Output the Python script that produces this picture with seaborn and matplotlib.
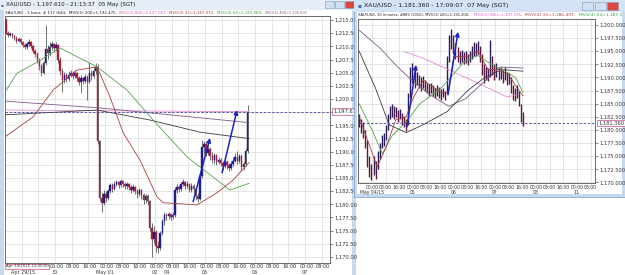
import numpy as np
import pandas as pd
import matplotlib
matplotlib.use("Agg")
import matplotlib.pyplot as plt
from matplotlib.patches import Rectangle
import seaborn as sns

# ---------------- LEFT CHART DATA: XAU/USD 1 hour ----------------
L_first_open = 1215.0
L_close = [1212.6, 1212.2, 1212.4, 1211.9, 1211.6, 1211.0, 1211.4, 1210.8, 1210.3, 1209.8,
           1210.4, 1210.9, 1210.1, 1209.2, 1208.6, 1207.4, 1206.3, 1204.9, 1206.8, 1209.5,
           1208.7, 1209.9, 1210.4, 1209.6, 1210.2, 1207.5, 1205.3, 1203.6, 1204.5, 1203.8,
           1204.6, 1205.0, 1204.3, 1204.9, 1204.0, 1203.2, 1203.9, 1203.5, 1204.2, 1203.3,
           1205.0, 1204.4, 1205.3, 1206.0, 1192.0, 1181.2, 1180.3, 1182.0, 1181.2, 1182.5,
           1183.6, 1183.0, 1183.8, 1184.2, 1183.6, 1184.4, 1183.9, 1183.5, 1183.9, 1183.2,
           1182.8, 1183.3, 1182.6, 1182.0, 1182.7, 1181.8, 1180.8, 1181.5, 1180.6, 1175.6,
           1173.5, 1174.8, 1172.1, 1171.8, 1174.6, 1176.8, 1178.0, 1177.7, 1178.1, 1177.6,
           1177.9, 1182.8, 1183.3, 1182.9, 1183.8, 1184.2, 1183.5, 1183.9, 1182.8, 1183.5,
           1182.9, 1181.6, 1181.0, 1185.4, 1190.8, 1191.5, 1189.8, 1190.6, 1189.2, 1188.4,
           1189.3, 1188.1, 1188.5, 1187.9, 1187.2, 1188.0, 1187.4, 1186.9, 1187.6, 1188.3,
           1189.0, 1188.2, 1189.1, 1187.0, 1187.6, 1190.2, 1197.6]
L_high = [1215.3, 1212.9, 1212.8, 1212.6, 1212.2, 1211.9, 1211.8, 1211.6, 1211.0, 1210.6,
          1210.9, 1211.4, 1211.1, 1210.3, 1209.5, 1208.9, 1207.8, 1206.6, 1207.2, 1214.0,
          1210.2, 1210.8, 1211.0, 1210.6, 1210.9, 1210.4, 1207.9, 1205.8, 1205.2, 1204.9,
          1205.4, 1205.6, 1205.3, 1205.5, 1205.1, 1204.4, 1204.5, 1204.2, 1204.8, 1204.6,
          1207.0, 1205.6, 1205.9, 1206.8, 1206.6, 1192.3, 1182.4, 1182.8, 1182.5, 1183.0,
          1184.1, 1184.0, 1184.4, 1184.7, 1184.5, 1184.9, 1184.6, 1184.2, 1184.3, 1184.1,
          1183.6, 1183.8, 1183.5, 1183.0, 1183.1, 1182.9, 1182.2, 1182.0, 1181.9, 1180.9,
          1176.4, 1175.8, 1175.2, 1173.0, 1175.0, 1177.2, 1178.6, 1178.4, 1178.5, 1178.3,
          1178.6, 1183.2, 1183.9, 1183.6, 1184.3, 1184.8, 1184.4, 1184.5, 1184.1, 1184.0,
          1183.9, 1183.3, 1182.2, 1185.8, 1192.3, 1192.0, 1191.9, 1191.4, 1190.9, 1190.0,
          1189.8, 1189.6, 1189.0, 1188.8, 1188.3, 1188.6, 1188.4, 1187.9, 1188.2, 1188.9,
          1189.8, 1190.1, 1189.6, 1189.5, 1188.1, 1190.7, 1198.9]
L_low = [1212.3, 1211.8, 1211.9, 1211.5, 1211.2, 1210.6, 1210.8, 1210.4, 1209.9, 1209.4,
         1209.5, 1210.1, 1209.7, 1208.8, 1208.0, 1206.9, 1205.6, 1204.3, 1204.7, 1206.5,
         1207.6, 1208.2, 1209.3, 1208.9, 1209.2, 1206.9, 1204.6, 1201.3, 1203.1, 1203.2,
         1203.5, 1204.1, 1203.8, 1203.9, 1203.4, 1202.6, 1201.1, 1202.9, 1203.1, 1199.8,
         1203.0, 1203.7, 1204.0, 1204.8, 1191.5, 1180.6, 1178.6, 1179.8, 1180.5, 1180.9,
         1182.1, 1182.4, 1182.7, 1183.4, 1183.1, 1183.3, 1183.2, 1182.9, 1183.0, 1182.7,
         1182.2, 1182.3, 1182.0, 1181.2, 1181.6, 1181.1, 1180.1, 1180.2, 1179.8, 1175.0,
         1170.0, 1172.6, 1170.9, 1170.8, 1171.3, 1174.1, 1176.0, 1177.1, 1177.3, 1177.1,
         1177.2, 1177.6, 1182.2, 1182.3, 1182.6, 1183.4, 1182.9, 1183.1, 1182.3, 1182.4,
         1182.1, 1180.9, 1180.5, 1180.8, 1185.0, 1189.6, 1189.1, 1189.3, 1188.4, 1187.8,
         1187.6, 1187.5, 1187.6, 1187.3, 1186.6, 1186.9, 1186.8, 1186.3, 1186.5, 1187.2,
         1188.1, 1187.7, 1187.9, 1186.4, 1186.5, 1187.2, 1189.8]
L_price_now = 1197.61

# moving averages (bar index, price)
L_ma32_x = [-0.5, 13.0, 22.6, 34.1, 43.7, 49.9, 56.2, 64.3, 72.5, 75.4, 91.7, 101.3, 109.0, 116.7]
L_ma32_y = [1192.8, 1196.6, 1201.7, 1205.5, 1206.1, 1200.4, 1193.6, 1188.4, 1181.4, 1180.3, 1179.9, 1182.2, 1184.6, 1187.97]
L_ma64_x = [-0.5, 5.3, 14.9, 25.9, 32.2, 43.7, 58.1, 70.6, 86.9, 107.5, 116.7]
L_ma64_y = [1201.3, 1204.9, 1207.0, 1209.7, 1208.4, 1206.1, 1201.7, 1196.0, 1189.0, 1182.7, 1183.99]
L_ma200_x = [-0.5, 43.7, 69.2, 93.2, 116.7]
L_ma200_y = [1197.0, 1197.9, 1196.0, 1193.7, 1192.48]
L_ma400_x = [-0.5, 45.1, 116.7]
L_ma400_y = [1199.6, 1198.3, 1195.51]
L_ma800_x = [-0.5, 116.7]
L_ma800_y = [1197.9, 1197.59]
L_arrows = [((89.8, 1180.5), (97.9, 1192.6)), ((103.7, 1186.0), (110.9, 1197.9))]

L_time_labels = ["00:00", "08:00", "16:00"]
L_day_labels = [(23.5, "30"), (47.5, "May 01"), (71.5, "02"),
                (77.0, "04"), (95.5, "05"), (119.5, "06"), (143.5, "07")]
L_first_day = "Apr 29/15"
L_cursor_label = "Apr 29/2015 13:00:00"
L_yticks = [1170 + 2.5 * k for k in range(19)]

# ---------------- RIGHT CHART DATA: XAU/USD 10 minutes ----------------
R_low = [1180.5, 1179.5, 1178.5, 1176.5, 1173.0, 1171.0, 1170.5, 1171.5, 1170.6, 1172.5,
         1174.5, 1176.5, 1177.0, 1178.0, 1180.0, 1182.0, 1182.5, 1182.0, 1182.5, 1181.5,
         1182.0, 1181.0, 1180.5, 1179.8, 1181.0, 1186.0, 1189.0, 1188.0, 1188.5, 1188.0,
         1187.5, 1188.0, 1187.5, 1187.0, 1186.5, 1187.0, 1186.5, 1186.0, 1186.5, 1186.0,
         1185.8, 1186.2, 1185.8, 1187.0, 1193.0, 1195.5, 1194.5, 1193.5, 1193.0, 1192.5,
         1193.0, 1192.5, 1192.8, 1192.3, 1193.0, 1193.5, 1194.0, 1194.0, 1194.5, 1193.0,
         1190.5, 1189.0, 1189.5, 1189.3, 1190.0, 1190.5, 1189.5, 1190.0, 1189.5, 1189.8,
         1189.0, 1189.5, 1188.5, 1188.8, 1187.0, 1185.8, 1185.5, 1186.0, 1184.5, 1181.5,
         1180.8]
R_high = [1183.0, 1182.0, 1181.5, 1180.0, 1178.0, 1175.0, 1173.5, 1175.0, 1174.0, 1176.0,
          1177.5, 1179.0, 1179.5, 1181.0, 1183.0, 1184.5, 1185.0, 1184.5, 1184.3, 1183.8,
          1184.0, 1183.2, 1182.6, 1182.0, 1187.0, 1192.0, 1192.8, 1191.5, 1191.0, 1190.5,
          1190.0, 1190.3, 1189.5, 1189.0, 1188.8, 1189.0, 1188.5, 1188.0, 1188.5, 1188.2,
          1187.8, 1188.0, 1187.5, 1194.0, 1198.0, 1199.3, 1198.0, 1196.5, 1195.8, 1195.0,
          1195.2, 1194.8, 1195.0, 1194.5, 1195.0, 1196.0, 1196.8, 1196.5, 1197.0, 1196.0,
          1194.5, 1192.5, 1192.0, 1191.8, 1197.2, 1194.0, 1192.5, 1192.8, 1191.8, 1192.0,
          1191.5, 1192.0, 1191.0, 1190.8, 1190.0, 1188.5, 1188.0, 1188.5, 1187.5, 1185.0,
          1183.5]
R_first_hour = -7.5
R_step_hours = 1.2
R_price_now = 1181.36

R_ma32_x = [-7.5, -2.0, 3.0, 8.0, 14.0, 20.0, 24.0, 30.0, 40.0, 44.5, 48.0, 56.0, 62.0, 68.0, 74.0, 80.0, 85.0, 88.5]
R_ma32_y = [1182.5, 1177.5, 1173.0, 1176.5, 1182.0, 1182.5, 1186.0, 1189.5, 1187.2, 1187.0, 1194.0, 1194.0, 1195.0, 1191.5, 1191.5, 1190.5, 1188.0, 1186.5]
R_ma64_x = [-7.5, 0.0, 6.0, 12.0, 20.0, 28.0, 40.0, 46.0, 54.0, 62.0, 70.0, 78.0, 84.0, 88.5]
R_ma64_y = [1185.0, 1180.0, 1175.5, 1179.0, 1181.5, 1185.0, 1187.8, 1190.0, 1193.0, 1194.2, 1192.5, 1191.2, 1190.0, 1187.1]
R_ma200_x = [-7.5, 2.0, 10.0, 20.0, 30.0, 44.0, 56.0, 66.0, 76.0, 88.5]
R_ma200_y = [1195.0, 1188.0, 1181.0, 1179.5, 1181.0, 1183.5, 1187.5, 1190.0, 1191.5, 1191.2]
R_ma400_x = [-7.5, 5.0, 15.0, 25.0, 35.0, 45.0, 55.0, 65.0, 75.0, 88.5]
R_ma400_y = [1199.0, 1195.5, 1192.0, 1189.0, 1186.5, 1184.5, 1186.0, 1189.0, 1192.0, 1191.8]
R_ma800_x = [19.0, 28.0, 41.5, 61.5, 79.0, 85.0]
R_ma800_y = [1194.9, 1193.9, 1192.0, 1189.0, 1186.3, 1186.7]
R_arrows = [((20.5, 1180.6), (25.8, 1192.4)), ((44.5, 1186.7), (50.4, 1198.7))]

R_day_labels = [(0, "May 04/15"), (24, "05"), (48, "06"), (72, "07"), (96, "08"), (120, "11")]
R_yticks = [1170 + 2.5 * k for k in range(13)]

# ---------------- colours ----------------
C_UP, C_DN, C_WICK = "#1c1f86", "#a3213a", "#3a3a3a"
C_RUP, C_RDN = "#2a1d5e", "#5e1a3a"
C_MA1, C_MA2, C_MA3, C_MA4, C_MA5 = "#3b3b3b", "#e28bd6", "#a8403c", "#58a050", "#7d5a86"
C_GRID = "#dadada"
C_ARROW = "#1b22c8"
C_FRAME = "#c7d9ef"

# ---------------- figure helpers ----------------
W, H = 625, 275
sns.set_theme(style="white")
plt.rcParams["font.family"] = ["DejaVu Sans"]
fig = plt.figure(figsize=(W / 100, H / 100), dpi=100)
fig.patch.set_facecolor("white")
renderer = fig.canvas.get_renderer()


def frect(x, y, w, h):
    return [x / W, 1 - (y + h) / H, w / W, h / H]


def box(x, y, w, h, fc, ec="none", lw=0.6, z=0.0):
    r = Rectangle((x / W, 1 - (y + h) / H), w / W, h / H, transform=fig.transFigure,
                  facecolor=fc, edgecolor=ec, linewidth=lw, zorder=z)
    fig.add_artist(r)
    return r


def ftext(x0, x1, yc, s, color="#111111", z=6, size=5.0, **kw):
    t = fig.text(x0 / W, 1 - yc / H, s, fontsize=size, color=color, va="center",
                 ha="left", zorder=z, **kw)
    if x1 is not None:
        w = t.get_window_extent(renderer).width
        t.set_fontsize(size * (x1 - x0) / w)
    return t


def draw_candles(ax, xs, opens, closes, highs, lows, width):
    xs = np.asarray(xs, float)
    o = np.asarray(opens, float)
    c = np.asarray(closes, float)
    cols = np.where(c >= o, C_UP, C_DN)
    ax.vlines(xs, lows, highs, color=C_WICK, lw=0.5, zorder=3)
    ax.bar(xs, c - o, bottom=o, width=width, color=cols, edgecolor=cols, linewidth=0.3, zorder=4)


def ma(ax, xs, ys, color, lw=0.6):
    d = pd.DataFrame({"x": xs, "y": ys})
    sns.lineplot(data=d, x="x", y="y", ax=ax, color=color, lw=lw, sort=False, zorder=5)


def style_axes(ax, fmt, yticks, tick_size):
    ax.set_facecolor("white")
    ax.grid(True, color=C_GRID, lw=0.5)
    ax.set_yticks(yticks)
    ax.set_yticklabels([fmt.format(v) for v in yticks])
    ax.yaxis.tick_right()
    ax.tick_params(axis="y", labelsize=tick_size, pad=1, length=2, width=0.4,
                   colors="#333333", labelcolor="#333333")
    ax.tick_params(axis="x", labelbottom=False, length=0)
    ax.set_xlabel("")
    ax.set_ylabel("")
    for s in ax.spines.values():
        s.set_color("#6b6b6b")
        s.set_linewidth(0.7)


# ================= LEFT WINDOW =================
box(0, 0, 356, 275, C_FRAME, z=-5)
box(4, 0, 348, 275, "white", z=-4)
box(0, 0, 356, 10, "#e6edf6", z=-3)
ftext(1, 4, 5, "\u25aa", color="#4a6fa5", z=6)
ftext(6, 138, 4.8, "XAU/USD - 1,197.610 - 21:13:37  05 May (SGT)", color="#1a1a1a")
for bx, bc in [(325, "#cfe0f3"), (335, "#cfe0f3"), (345, "#d9473f")]:
    box(bx, 1, 9, 7, bc, ec="#7f9db9", lw=0.4, z=-2)

hdr_left = [(5, 67, "XAU/USD , 1 hour, # 117 /644,", "#1a1a1a"),
            (69, 117, "MVG(1) 200=1,192.475,", "#1a1a1a"),
            (119, 167, "MVG(2) 800=1,197.587,", "#d95fc8"),
            (169, 215, "MVG(3) 32=1,187.970,", "#a8403c"),
            (217, 263, "MVG(4) 64=1,183.989,", "#3f9a3f"),
            (265, 307, "MVG(5) 400=1,195.507", "#7d5a86")]
for x0, x1, s, c in hdr_left:
    ftext(x0, x1, 12.8, s, color=c)

axL = fig.add_axes(frect(5, 16, 325, 247))
axL.set_zorder(1)
nL = len(L_close)
L_idx = np.arange(nL)
L_open = [L_first_open] + L_close[:-1]
draw_candles(axL, L_idx, L_open, L_close, L_high, L_low, 0.7)
ma(axL, L_ma800_x, L_ma800_y, C_MA2)
ma(axL, L_ma400_x, L_ma400_y, C_MA5)
ma(axL, L_ma200_x, L_ma200_y, C_MA1)
ma(axL, L_ma64_x, L_ma64_y, C_MA4)
ma(axL, L_ma32_x, L_ma32_y, C_MA3)
axL.axhline(L_price_now, color="#4a3fa0", lw=0.6, ls=(0, (3, 2)), zorder=6)
for (x0, y0), (x1, y1) in L_arrows:
    axL.annotate("", xy=(x1, y1), xytext=(x0, y0),
                 arrowprops=dict(arrowstyle="-|>", color=C_ARROW, lw=1.1, mutation_scale=6,
                                 shrinkA=0, shrinkB=0), zorder=7)
L_grid_x = np.arange(-0.5, 156, 8)
axL.set_xticks(L_grid_x)
axL.set_xlim(-0.48, 155.5)
axL.set_ylim(1168.86, 1215.76)
style_axes(axL, "{:,.2f}", L_yticks, 3.7)
axL.annotate("{:,.2f}".format(L_price_now), xy=(1, L_price_now),
             xycoords=("axes fraction", "data"), xytext=(2.2, 0), textcoords="offset points",
             va="center", ha="left", fontsize=3.7, color="#333333",
             bbox=dict(boxstyle="square,pad=0.15", fc="white", ec="#c0508a", lw=0.5),
             annotation_clip=False, zorder=8)
xt = axL.get_xaxis_transform()
for k, gx in enumerate(L_grid_x):
    if gx < 20:
        continue
    axL.text(gx + 0.6, -0.015, L_time_labels[k % 3], transform=xt, ha="center", va="center",
             fontsize=3.5, color="#333333")
for gx, s in L_day_labels:
    axL.text(gx, -0.037, s, transform=xt, ha="center", va="center", fontsize=3.5,
             color="#333333")
axL.text(2.5, -0.037, L_first_day, transform=xt, ha="left", va="center", fontsize=3.5,
         color="#333333")
axL.text(-0.2, -0.014, L_cursor_label, transform=xt, ha="left", va="center",
         fontsize=2.75, color="#333333",
         bbox=dict(boxstyle="square,pad=0.1", fc="white", ec="#d0507a", lw=0.5), zorder=9)

# ================= RIGHT WINDOW =================
box(354, 0, 271, 197, C_FRAME, ec="#8aa9cf", lw=0.6, z=2)
box(354, 0, 271, 12, "#d3e2f4", z=2.1)
box(357, 12, 265, 182, "white", z=2.2)
ftext(357, 361, 6, "\u25aa", color="#4a6fa5", z=6)
ftext(364, 510, 6, "XAU/USD - 1,181.360 - 17:09:07  07 May (SGT)", color="#1a1a1a")
for bx, bc in [(582, "#cfe0f3"), (595, "#cfe0f3"), (607, "#d9473f")]:
    box(bx, 2, 11, 8, bc, ec="#7f9db9", lw=0.4, z=2.3)

hdr_right = [(358, 472, "XAU/USD, 10 minutes, #889 (1010), MVG(1) 200=1,191.200,", "#1a1a1a"),
             (474, 523, "MVG(2) 800=1,197.195,", "#d95fc8"),
             (525, 577, "MVG(3) 32=1,186.497,", "#a8403c"),
             (579, 623, "MVG(4) 64=1,187.1", "#3f9a3f")]
for x0, x1, s, c in hdr_right:
    ftext(x0, x1, 15.3, s, color=c)

axR = fig.add_axes(frect(358, 19, 237, 164))
axR.set_zorder(3)
nR = len(R_high)
R_hours = R_first_hour + R_step_hours * np.arange(nR)
R_mid = [(a + b) / 2 for a, b in zip(R_low, R_high)]
R_cols = [C_RDN if (i > 0 and R_mid[i] < R_mid[i - 1]) else C_RUP for i in range(nR)]
axR.vlines(R_hours, R_low, R_high, colors=R_cols, lw=1.0, zorder=3)
ma(axR, R_ma800_x, R_ma800_y, C_MA2)
ma(axR, R_ma400_x, R_ma400_y, C_MA5)
ma(axR, R_ma200_x, R_ma200_y, C_MA1)
ma(axR, R_ma64_x, R_ma64_y, C_MA4)
ma(axR, R_ma32_x, R_ma32_y, C_MA3)
axR.axhline(R_price_now, color="#4a3fa0", lw=0.6, ls=(0, (3, 2)), zorder=6)
for (x0, y0), (x1, y1) in R_arrows:
    axR.annotate("", xy=(x1, y1), xytext=(x0, y0),
                 arrowprops=dict(arrowstyle="-|>", color=C_ARROW, lw=1.1, mutation_scale=6,
                                 shrinkA=0, shrinkB=0), zorder=7)
R_grid_x = np.arange(-8, 131, 8)
axR.set_xticks(R_grid_x)
axR.set_xlim(-8.2, 130.6)
axR.set_ylim(1169.9, 1201.14)
style_axes(axR, "{:,.3f}", R_yticks, 3.7)
axR.annotate("{:,.3f}".format(R_price_now), xy=(1, R_price_now),
             xycoords=("axes fraction", "data"), xytext=(2.2, 0), textcoords="offset points",
             va="center", ha="left", fontsize=3.7, color="#333333",
             bbox=dict(boxstyle="square,pad=0.15", fc="white", ec="#c0508a", lw=0.5),
             annotation_clip=False, zorder=8)
xtR = axR.get_xaxis_transform()
for gx in R_grid_x:
    if gx < 0:
        continue
    lab = L_time_labels[int(gx // 8) % 3]
    axR.text(gx, -0.025, lab, transform=xtR, ha="center", va="center", fontsize=3.3,
             color="#333333")
for gx, s in R_day_labels:
    axR.text(gx, -0.06, s, transform=xtR, ha="center", va="center", fontsize=3.3,
             color="#333333")

fig.savefig("out.png", dpi=100, facecolor="white")
